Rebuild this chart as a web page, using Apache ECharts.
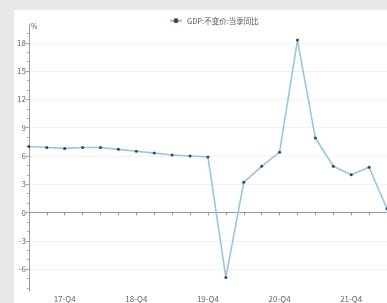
<!DOCTYPE html>
<html>
<head>
<meta charset="utf-8">
<script src="https://cdn.jsdelivr.net/npm/echarts@6/dist/echarts.min.js"></script>
<style>
  html, body { margin: 0; padding: 0; background: #e8e8e8; width: 387px; height: 303px; overflow: hidden; }
  #chart { position: absolute; left: 14px; top: 10px; width: 373px; height: 293px; background: #fff; }
</style>
</head>
<body>
<div id="chart"></div>
<script>
// quarters 2017Q2 .. 2022Q2
const quarters = ['17-Q2', '17-Q3', '17-Q4', '18-Q1', '18-Q2', '18-Q3', '18-Q4', '19-Q1', '19-Q2', '19-Q3', '19-Q4',
  '20-Q1', '20-Q2', '20-Q3', '20-Q4', '21-Q1', '21-Q2', '21-Q3', '21-Q4', '22-Q1', '22-Q2']
const gdpYoy = [7.0, 6.9, 6.8, 6.9, 6.9, 6.7, 6.5, 6.3, 6.1, 6.0, 5.9,
  -6.9, 3.2, 4.9, 6.4, 18.3, 7.9, 4.9, 4.0, 4.8, 0.4]
const yLabels = [-6, -3, 0, 3, 6, 9, 12, 15, 18]
const yMinorTicks = [-8, -7, -6, -5, -4, -3, -2, -1, 0, 1, 2, 3, 4, 5, 6, 7, 8, 9, 10, 11, 12, 13, 14, 15, 16, 17, 18, 19]
const seriesName = 'GDP:不变价:当季同比'

const font = 'Noto Sans CJK SC'
const chart = echarts.init(document.getElementById('chart'))
chart.setOption({
  animation: false,
  textStyle: { fontFamily: font },
  legend: {
    top: 2,
    left: 150,
    itemWidth: 12,
    itemHeight: 6,
    itemGap: 3,
    textStyle: { fontSize: 7.5, color: '#555', fontFamily: font },
    data: [seriesName]
  },
  grid: {
    left: 11.5,
    right: -2.3,
    top: 14,
    bottom: 12.3,
    containLabel: false
  },
  xAxis: {
    type: 'category',
    data: quarters,
    boundaryGap: false,
    axisLine: { lineStyle: { color: '#999', width: 1 } },
    axisTick: { show: true, interval: 0, length: 3, lineStyle: { color: '#999' } },
    axisLabel: {
      interval: (i) => i % 4 === 2,
      fontSize: 8,
      color: '#666',
      margin: 4
    },
    splitLine: { show: false }
  },
  yAxis: [
    {
      type: 'value',
      min: -8.3,
      max: 20,
      name: '%',
      nameLocation: 'end',
      nameGap: -6,
      nameTextStyle: { fontSize: 7, color: '#666', align: 'left', padding: [0, 0, 0, 2] },
      axisLine: { show: true, lineStyle: { color: '#999' } },
      axisTick: { show: true, customValues: yLabels, length: 3, lineStyle: { color: '#999' } },
      axisLabel: { customValues: yLabels, fontSize: 8, color: '#666', margin: 3 },
      splitLine: { show: true, lineStyle: { color: '#f2f2f2', width: 1 } }
    },
    {
      type: 'value',
      min: -8.3,
      max: 20,
      position: 'left',
      axisLine: { show: false },
      axisTick: { show: true, customValues: yMinorTicks, length: 2, lineStyle: { color: '#aaa' } },
      axisLabel: { show: false },
      splitLine: { show: false }
    }
  ],
  series: [
    {
      name: seriesName,
      type: 'line',
      data: gdpYoy,
      symbol: 'circle',
      symbolSize: 3,
      showAllSymbol: true,
      lineStyle: { color: '#94c8df', width: 1.6 },
      itemStyle: { color: '#3b4650' }
    }
  ]
})
</script>
</body>
</html>
